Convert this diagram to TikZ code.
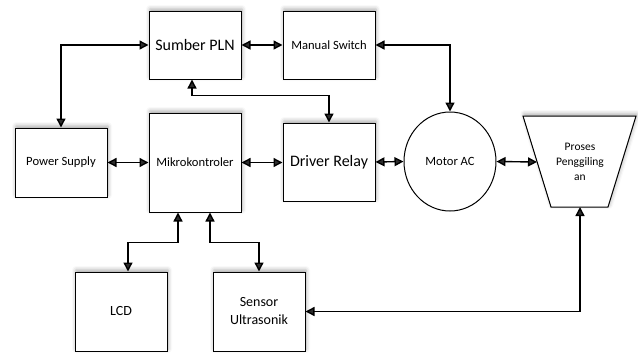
\documentclass[tikz,border=0pt]{standalone}
\usepackage{fontspec}
\setmainfont{Carlito}
\usetikzlibrary{arrows.meta,shapes.geometric,shadows.blur}
\begin{document}
\begin{tikzpicture}[x=1pt,y=-1pt,
  box/.style={draw=black,line width=1pt,fill=white,rectangle,minimum width=92pt,inner sep=1pt,align=center,
    blur shadow={shadow xshift=1pt,shadow yshift=2pt,shadow blur radius=4pt,shadow opacity=35}},
  arr/.style={line width=1.4pt,{Triangle[length=9pt,width=9pt]}-{Triangle[length=9pt,width=9pt]}},
  big/.style={font=\fontsize{16}{18}\selectfont},
  mid/.style={font=\fontsize{12.6}{15}\selectfont},
  lbl/.style={font=\fontsize{14}{18}\selectfont},
  small/.style={font=\fontsize{11.5}{15}\selectfont}]
\useasboundingbox (0,0) rectangle (638,354);
\node[box,big,minimum height=68pt] (pln) at (195,45) {Sumber PLN};
\node[box,mid,minimum height=68pt] (ms) at (329,45) {Manual Switch};
\node[box,mid,minimum height=69pt] (ps) at (61,162.5) {Power Supply};
\node[box,mid,minimum height=99pt] (mk) at (195,162.5) {Mikrokontroler};
\node[box,big,minimum height=78pt] (dr) at (329,162) {Driver Relay};
\node[box,lbl,minimum height=79pt] (lcd) at (121,311.5) {LCD};
\node[box,lbl,minimum height=79pt] (su) at (259,311.5) {Sensor\\Ultrasonik};
\node[draw=black,line width=1pt,ellipse,minimum width=92pt,minimum height=99pt,inner sep=0pt,mid] (motor) at (450,161.5) {Motor AC};
% trapezoid
\draw[line width=1pt,fill=white,blur shadow={shadow xshift=1pt,shadow yshift=2pt,shadow blur radius=4pt,shadow opacity=35}]
  (523,116) coordinate (tztl) -- (636,116) coordinate (tztr) -- (608,207) coordinate (tzbr) -- (551,207) coordinate (tzbl) -- cycle;
\coordinate (tzl) at (537,162);
\coordinate (tzb) at (580,207);
\node[small,align=center] (tz) at (580,162) {Proses\\Penggiling\\an};
% connectors
\draw[arr] (ps.north) |- (pln.west);
\draw[arr] (pln.east) -- (ms.west);
\draw[arr] (ms.east) -| (motor.north);
\draw[arr] ([xshift=-3pt]pln.south) -- ++(0,16) -| (dr.north);
\draw[arr] (ps.east) -- (mk.west);
\draw[arr] (mk.east) -- (mk.east -| dr.west);
\draw[arr] (dr.east) -- (motor.west);
\draw[arr] (motor.east) -- (tzl);
\draw[arr] ([xshift=-17pt]mk.south) -- ++(0,30) -| ([xshift=7pt]lcd.north);
\draw[arr] ([xshift=15pt]mk.south) -- ++(0,30) -| (su.north);
\draw[arr] (tzb) |- (su.east);
\end{tikzpicture}
\end{document}
